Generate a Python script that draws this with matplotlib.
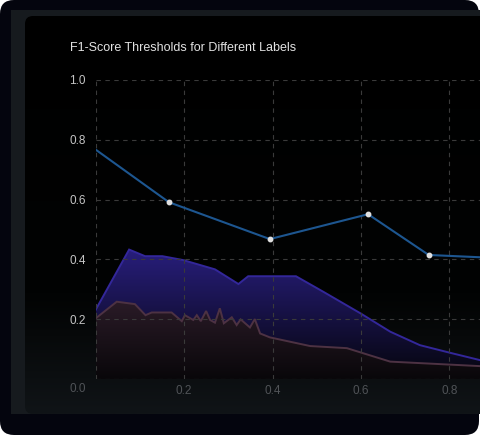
import numpy as np
import matplotlib
matplotlib.use("Agg")
import matplotlib.pyplot as plt
from matplotlib.colors import LinearSegmentedColormap
from matplotlib.patches import FancyBboxPatch, Rectangle, PathPatch
from matplotlib.transforms import ScaledTranslation

plt.rcParams['font.family'] = ['Liberation Sans', 'DejaVu Sans']

# chart data
blue_x = [0.0, 0.166, 0.394, 0.616, 0.753, 0.95]
blue_y = [0.767, 0.591, 0.468, 0.551, 0.415, 0.402]

purple_x = [0.0, 0.076, 0.112, 0.151, 0.198, 0.27, 0.323, 0.345, 0.453,
            0.515, 0.599, 0.666, 0.733, 0.8, 0.869, 0.95]
purple_y = [0.231, 0.433, 0.411, 0.411, 0.398, 0.367, 0.318, 0.344, 0.344,
            0.292, 0.22, 0.159, 0.114, 0.089, 0.064, 0.045]

mauve_x = [0.0, 0.048, 0.089, 0.113, 0.127, 0.172, 0.195, 0.202, 0.221, 0.229,
           0.238, 0.25, 0.259, 0.27, 0.281, 0.29, 0.308, 0.319, 0.328, 0.349,
           0.36, 0.372, 0.394, 0.485, 0.568, 0.666, 0.869, 0.95]
mauve_y = [0.203, 0.259, 0.251, 0.214, 0.223, 0.223, 0.194, 0.214, 0.198, 0.214,
           0.194, 0.228, 0.198, 0.189, 0.237, 0.187, 0.207, 0.181, 0.2, 0.173,
           0.201, 0.153, 0.14, 0.111, 0.104, 0.059, 0.044, 0.042]

x_ticks = [0.0, 0.2, 0.4, 0.6, 0.8]
y_ticks = [0.0, 0.2, 0.4, 0.6, 0.8, 1.0]

W, H = 481, 436
fig = plt.figure(figsize=(W / 100, H / 100), dpi=100, facecolor='white')

# card background in pixel coordinates
bg = fig.add_axes([0, 0, 1, 1], zorder=-1)
bg.axis('off')
bg.add_patch(FancyBboxPatch((0, 0), 479, 435, boxstyle='round,pad=0,rounding_size=14',
                            fc='#04050e', ec='none', zorder=1))
bg.add_patch(Rectangle((11, 10), 480, 404, fc='#161a1e', ec='none', zorder=1.1))
inner = FancyBboxPatch((25, 16), 480, 398, boxstyle='round,pad=0,rounding_size=8',
                       fc='none', ec='none')
bg.add_patch(inner)
panel_cmap = LinearSegmentedColormap.from_list(
    'panel', [(0, '#000000'), (0.7, '#020303'), (1, '#101417')])
im = bg.imshow(np.linspace(0, 1, 256).reshape(-1, 1), cmap=panel_cmap, aspect='auto',
               extent=[25, 505, 16, 414], origin='lower', zorder=2)
im.set_clip_path(inner)
bg.set_xlim(0, W)
bg.set_ylim(H, 0)

# chart axes
ax = fig.add_axes([95.5 / W, 1 - 379.3 / H, 385.5 / W, 299.6 / H])
ax.set_facecolor('none')


def gradient_area(x, y, top, bottom, line_color, z):
    ax.plot(x, y, color=line_color, lw=1.4, zorder=z + 0.5, solid_joinstyle='miter')
    poly = ax.fill_between(x, y, 0, facecolor='none', edgecolor='none')
    patch = PathPatch(poly.get_paths()[0], transform=ax.transData, fc='none', ec='none')
    ax.add_patch(patch)
    cmap = LinearSegmentedColormap.from_list('g', [bottom, top])
    img = ax.imshow(np.linspace(0, 1, 256).reshape(-1, 1), cmap=cmap, aspect='auto',
                    extent=[min(x), max(x), 0, max(y)], origin='lower', zorder=z)
    img.set_clip_path(patch)


gradient_area(purple_x, purple_y, '#281e7c', '#05050c', '#33279a', 1)
gradient_area(mauve_x, mauve_y, '#2a1b27', '#09070a', '#4d3243', 1.2)

ax.plot(blue_x, blue_y, color='#1d5690', lw=1.5, zorder=3,
        marker='o', markersize=3.2, markerfacecolor='#e0e0e0', markeredgecolor='#e0e0e0',
        markevery=[1, 2, 3, 4])

ax.set_xlim(0, (W - 95.5) / 442.5)
ax.set_ylim(0, 1.0)
ax.set_xticks(x_ticks)
ax.set_yticks(y_ticks)
ax.set_xticklabels([''] + [f'{v:.1f}' for v in x_ticks[1:]])
ax.set_yticklabels([f'{v:.1f}' for v in y_ticks])
ax.set_axisbelow(False)
ax.grid(True, color='#3a3a3a', lw=0.8, linestyle=(0, (4, 4)))
for s in ax.spines.values():
    s.set_visible(False)
ax.tick_params(axis='both', length=0, labelsize=8.5)
ax.tick_params(axis='y', pad=7, labelcolor='#c4c4c4')
ax.tick_params(axis='x', pad=4, labelcolor='#505357')

# the 0.0 origin label sits a little lower and in the dim x-axis colour
zero = ax.get_yticklabels()[0]
zero.set_color('#505357')
zero.set_transform(zero.get_transform() + ScaledTranslation(0, -0.08, fig.dpi_scale_trans))

fig.text(70 / W, 1 - 51 / H, 'F1-Score Thresholds for Different Labels',
         color='#e2e2e2', fontsize=9, va='baseline', ha='left')

fig.savefig('out.png', dpi=100, facecolor='white')
